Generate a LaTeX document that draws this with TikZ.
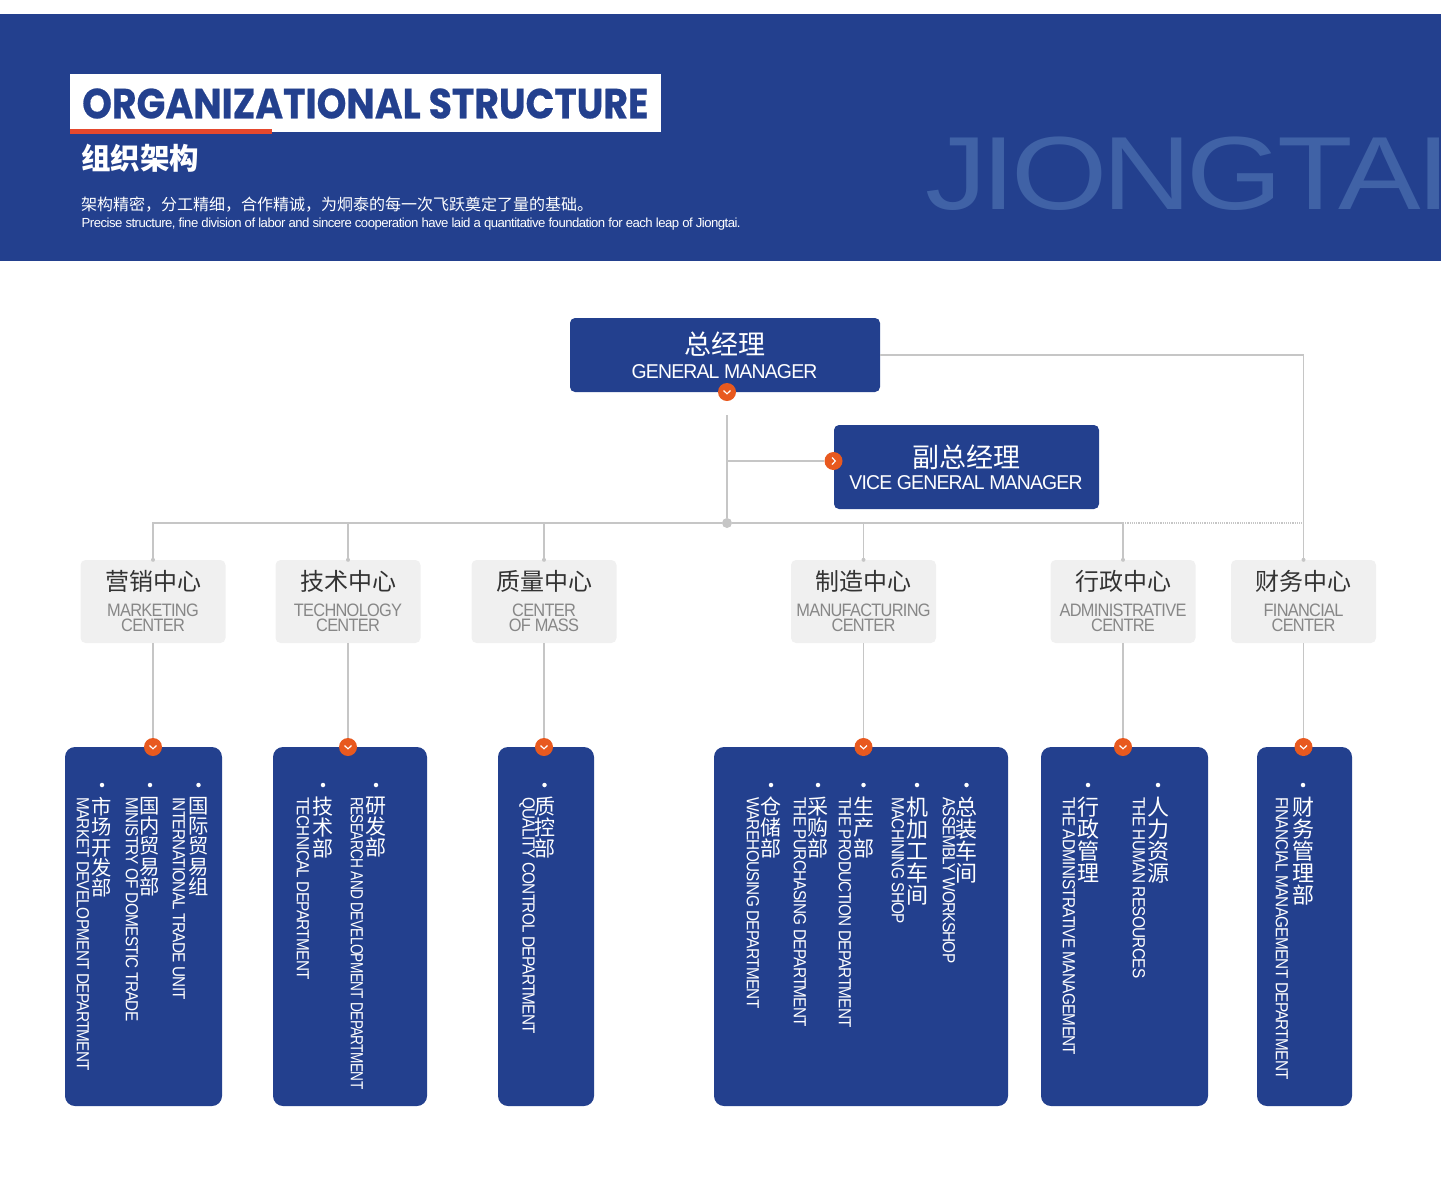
\documentclass[tikz,border=0pt]{standalone}
\usepackage{graphicx}
\usepackage{fontspec}
\usepackage{xcolor}
\setmainfont{Liberation Sans}
\newfontfamily\zhfont{Noto Sans CJK SC}
\newfontfamily\enfont[LetterSpace=-4]{Liberation Sans}
\newfontfamily\bossfont[LetterSpace=-4,FakeStretch=.97]{Liberation Sans}
\newfontfamily\centerfont[LetterSpace=-4,FakeStretch=.91]{Liberation Sans}
\newfontfamily\deptfont[LetterSpace=-4,FakeStretch=.875]{Liberation Sans}
\newfontfamily\markfont[LetterSpace=-5,FakeStretch=1.19]{Liberation Sans}
\newfontfamily\headfont[FakeStretch=.9,BoldFeatures={FakeBold=.6}]{Poppins}
\definecolor{bandblue}{HTML}{23408E}
\definecolor{markblue}{HTML}{4062A6}
\definecolor{accent}{HTML}{E8591F}
\definecolor{barred}{HTML}{E5482D}
\definecolor{linegray}{HTML}{C6C6C6}
\definecolor{paleboxgray}{HTML}{F0F0F0}
\usetikzlibrary{positioning}

\begin{document}
\begin{tikzpicture}[
  x=1pt, y=-1pt,
  bossbox/.style={rectangle,rounded corners=5pt,fill=bandblue,inner sep=0pt},
  centerbox/.style={rectangle,rounded corners=5pt,fill=paleboxgray,minimum width=145pt,minimum height=83pt,inner sep=0pt},
  deptbox/.style={rectangle,rounded corners=10pt,fill=bandblue,minimum height=359pt,inner sep=0pt},
  link/.style={draw=linegray,line width=1.3pt},
  badge/.style={circle,fill=accent,minimum size=18pt,inner sep=0pt},
  downmark/.style={badge,path picture={\draw[white,line width=1.2pt]
    ([shift={(-3.5pt,1.5pt)}]path picture bounding box.center)--
    ([shift={(0pt,-1.8pt)}]path picture bounding box.center)--
    ([shift={(3.5pt,1.5pt)}]path picture bounding box.center);}},
  rightmark/.style={badge,path picture={\draw[white,line width=1.2pt]
    ([shift={(-1.5pt,3.5pt)}]path picture bounding box.center)--
    ([shift={(1.8pt,0pt)}]path picture bounding box.center)--
    ([shift={(-1.5pt,-3.5pt)}]path picture bounding box.center);}},
  tipdot/.style={circle,fill=linegray,minimum size=4pt,inner sep=0pt},
  bullet/.style={circle,fill=white,minimum size=4.5pt,inner sep=0pt},
  bosszh/.style={text=white,inner sep=0pt,font=\zhfont\fontsize{27}{27}\selectfont},
  bossen/.style={text=white,inner sep=0pt,font=\bossfont\fontsize{20}{20}\selectfont},
  centerzh/.style={text=black!80,inner sep=0pt,font=\zhfont\fontsize{24}{24}\selectfont},
  centeren/.style={text=black!47,inner sep=0pt,align=center,font=\centerfont\fontsize{18}{15}\selectfont},
  deptzh/.style={text=white,inner sep=0pt,anchor=north,align=center},
  depten/.style={text=white,inner sep=0pt,rotate=-90,anchor=west,font=\deptfont\fontsize{17.5}{18}\selectfont}]
\useasboundingbox (0,0) rectangle (1441,1187);

% header band
\fill[bandblue] (0,14) rectangle (1441,261);
\begin{scope}
\clip (0,14) rectangle (1441,261);
\node[text=markblue,inner sep=0pt,anchor=west,font=\markfont\fontsize{104}{104}\selectfont] (mark) at (925,174) {JIONGTAI};
\end{scope}
\fill[white] (70,74) rectangle (660.5,132);
\fill[barred] (70,129) rectangle (272,134);
\node[text=bandblue,inner sep=0pt,anchor=west,font=\headfont\bfseries\fontsize{42}{42}\selectfont] (title) at (82,103.5) {ORGANIZATIONAL STRUCTURE};
\node[text=white,inner sep=0pt,anchor=west,font=\zhfont\bfseries\fontsize{29.5}{30}\selectfont] (titlezh) at (81,158.5) {组织架构};
\node[text=white,inner sep=0pt,anchor=west,font=\zhfont\fontsize{16}{16}\selectfont] (subzh) at (81,204.5) {架构精密，分工精细，合作精诚，为炯泰的每一次飞跃奠定了量的基础。};
\node[text=white,inner sep=0pt,anchor=west,font=\enfont\fontsize{13.15}{14}\selectfont] (suben) at (81.5,224) {Precise structure, fine division of labor and sincere cooperation have laid a quantitative foundation for each leap of Jiongtai.};

% top of the chart
\node[bossbox,minimum width=310pt,minimum height=74pt] (gm) at (725,355) {};
\node[bosszh] (gmzh) at (724.5,344) {总经理};
\node[bossen] (gmen) at (724.5,372) {GENERAL MANAGER};
\node[bossbox,minimum width=265pt,minimum height=84pt] (vgm) at (966.5,467) {};
\node[bosszh] (vgmzh) at (966,457.5) {副总经理};
\node[bossen] (vgmen) at (966,483) {VICE GENERAL MANAGER};
\node[downmark] (gmmark) at (727,392) {};
\node[rightmark] (vgmmark) at (833.5,461) {};
\coordinate (stub) at (727,415);
\coordinate (fork) at (727,461);
\node[tipdot,minimum size=10pt] (hub) at (727,523) {};

% centers
\foreach \i/\cx/\czh/\cen in {1/153/营销中心/MARKETING\\CENTER,
  2/348/技术中心/TECHNOLOGY\\CENTER,
  3/544/质量中心/CENTER\\OF MASS,
  4/863.5/制造中心/MANUFACTURING\\CENTER,
  5/1123/行政中心/ADMINISTRATIVE\\CENTRE,
  6/1303.5/财务中心/FINANCIAL\\CENTER}{
  \node[centerbox] (c\i) at (\cx,601.5) {};
  \node[centerzh] (cz\i) at (\cx,581) {\czh};
  \node[centeren] (ce\i) at (\cx,618) {\cen};
  \node[tipdot] (t\i) at (c\i.north) {};
}

% department boxes
\foreach \i/\bx/\bw/\mx in {1/143.5/157/153,2/350/154/348,3/546/96/544,
  4/861/294/863.5,5/1124.5/167/1123,6/1304.5/95/1303.5}{
  \node[deptbox,minimum width=\bw pt] (d\i) at (\bx,926.5) {};
  \node[downmark] (m\i) at (\mx,747) {};
  \draw[link] (c\i.south)--(m\i);
}

% connectors
\draw[link] (stub)--(hub);
\draw[link] (fork)--(vgmmark);
\draw[link] (c1.north) |- (hub) -| (c5.north);
\draw[link] (c2.north)--(c2.north |- hub);
\draw[link] (c3.north)--(c3.north |- hub);
\draw[link] (c4.north)--(c4.north |- hub);
\draw[link] (gm.east) -| (c6.north);
\draw[draw=linegray,line width=1.2pt,densely dotted] (hub -| c5.north)--(hub -| c6.north);

% department columns
\foreach \k/\ux/\ex/\zs/\dzh/\den in {
  a/198.5/179/20.3/国\\际\\贸\\易\\组/INTERNATIONAL TRADE UNIT,
  b/150/132/20.3/国\\内\\贸\\易\\部/MINISTRY OF DOMESTIC TRADE,
  c/102/83/20.3/市\\场\\开\\发\\部/MARKET DEVELOPMENT DEPARTMENT,
  d/376/357/21/研\\发\\部/\scalebox{.89}[1]{RESEARCH AND DEVELOPMENT DEPARTMENT},
  e/323/303/21/技\\术\\部/TECHNICAL DEPARTMENT,
  f/544.5/527/21/质\\控\\部/QUALITY CONTROL DEPARTMENT,
  g/966.5/949/22/总\\装\\车\\间/ASSEMBLY WORKSHOP,
  h/917/898/22/机\\加\\工\\车\\间/MACHINING SHOP,
  i/863.5/845/21/生\\产\\部/THE PRODUCTION DEPARTMENT,
  j/818/800/21/采\\购\\部/THE PURCHASING DEPARTMENT,
  k/771/753/21/仓\\储\\部/WAREHOUSING DEPARTMENT,
  l/1158/1139/22/人\\力\\资\\源/THE HUMAN RESOURCES,
  m/1088/1069/22/行\\政\\管\\理/THE ADMINISTRATIVE MANAGEMENT,
  n/1303/1282/22/财\\务\\管\\理\\部/FINANCIAL MANAGEMENT DEPARTMENT}{
  \node[bullet] (u\k) at (\ux,785) {};
  \node[deptzh,font=\zhfont\fontsize{\zs}{\zs}\selectfont] (z\k) at (\ux,797) {\dzh};
  \node[depten] (e\k) at (\ex,797) {\den};
}
\end{tikzpicture}
\end{document}
